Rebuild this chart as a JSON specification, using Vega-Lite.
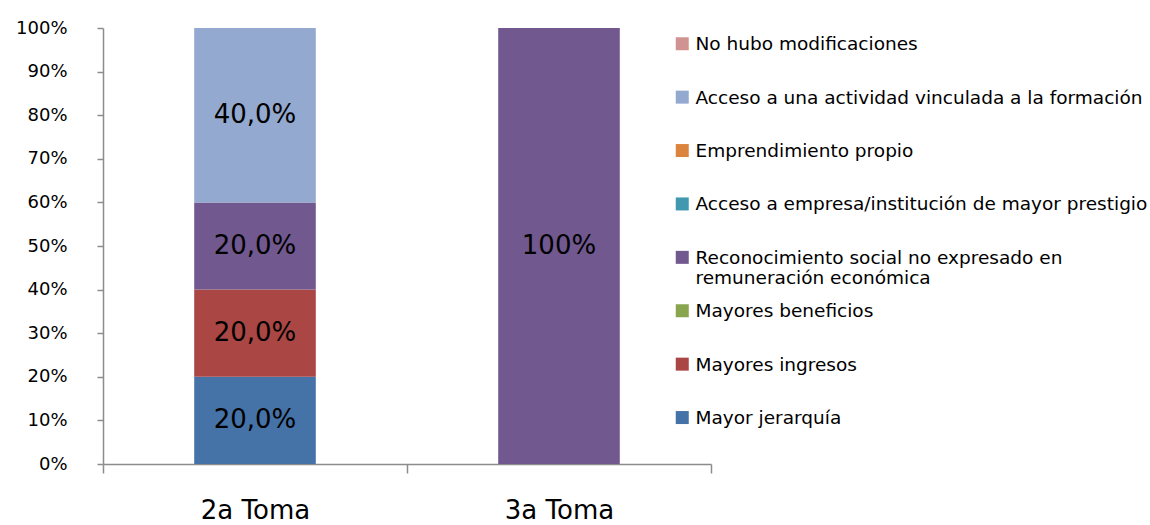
{
  "$schema": "https://vega.github.io/schema/vega-lite/v6.json",
  "width": 608,
  "height": 436,
  "autosize": "none",
  "padding": {"left": 103, "top": 28, "right": 439, "bottom": 61},
  "background": "white",
  "config": {
    "view": {"stroke": null},
    "font": "DejaVu Sans"
  },
  "data": {
    "values": [
      {"toma": "2a Toma", "cat": "Mayor jerarquía", "ord": 1, "value": 0.2, "label": "20,0%"},
      {"toma": "2a Toma", "cat": "Mayores ingresos", "ord": 2, "value": 0.2, "label": "20,0%"},
      {"toma": "2a Toma", "cat": "Reconocimiento social no expresado en remuneración económica", "ord": 4, "value": 0.2, "label": "20,0%"},
      {"toma": "2a Toma", "cat": "Acceso a una actividad vinculada a la formación", "ord": 7, "value": 0.4, "label": "40,0%"},
      {"toma": "3a Toma", "cat": "Reconocimiento social no expresado en remuneración económica", "ord": 4, "value": 1.0, "label": "100%"}
    ]
  },
  "transform": [
    {"stack": "value", "groupby": ["toma"], "sort": [{"field": "ord", "order": "ascending"}], "as": ["v0", "v1"]},
    {"calculate": "(datum.v0 + datum.v1) / 2", "as": "mid"}
  ],
  "encoding": {
    "x": {
      "field": "toma", "type": "nominal",
      "scale": {"paddingInner": 0, "paddingOuter": 0},
      "axis": {
        "title": null, "labelAngle": 0, "labelFontSize": 26, "labelColor": "#000",
        "domainColor": "#8c8c8c", "domainWidth": 1.5, "tickColor": "#8c8c8c", "tickWidth": 1.5,
        "tickSize": 9, "tickBand": "extent", "labelPadding": 24
      }
    }
  },
  "layer": [
    {
      "mark": {"type": "bar", "width": {"band": 0.4}},
      "encoding": {
        "y": {
          "field": "v0", "type": "quantitative",
          "scale": {"domain": [0, 1]},
          "axis": {
            "title": null, "format": ".0%", "values": [0, 0.1, 0.2, 0.3, 0.4, 0.5, 0.6, 0.7, 0.8, 0.9, 1],
            "grid": false, "labelFontSize": 18, "labelColor": "#000", "labelOverlap": false,
            "domainColor": "#8c8c8c", "domainWidth": 1.5, "tickColor": "#8c8c8c", "tickWidth": 1.5,
            "tickSize": 6, "labelPadding": 30
          }
        },
        "y2": {"field": "v1"},
        "color": {
          "field": "cat", "type": "nominal",
          "scale": {
            "domain": [
              "No hubo modificaciones",
              "Acceso a una actividad vinculada a la formación",
              "Emprendimiento propio",
              "Acceso a empresa/institución de mayor prestigio",
              "Reconocimiento social no expresado en remuneración económica",
              "Mayores beneficios",
              "Mayores ingresos",
              "Mayor jerarquía"
            ],
            "range": ["#D19392", "#93A9CF", "#DB843D", "#4198AF", "#71588F", "#89A54E", "#AA4643", "#4572A7"]
          },
          "legend": {
            "title": null, "orient": "none", "legendX": 570, "legendY": 13,
            "padding": 0, "symbolType": "M-1,-2H1V0H-1Z", "symbolSize": 169, "symbolStrokeWidth": 0,
            "labelFontSize": 18.5, "labelColor": "#000", "labelOffset": 4, "labelBaseline": "alphabetic",
            "gridAlign": "all", "rowPadding": 13.4,
            "labelLimit": 600,
            "labelExpr": "datum.label == 'Reconocimiento social no expresado en remuneración económica' ? ['Reconocimiento social no expresado en', 'remuneración económica'] : datum.label"
          }
        }
      }
    },
    {
      "mark": {"type": "text", "fontSize": 26, "color": "#000", "baseline": "middle"},
      "encoding": {
        "y": {"field": "mid", "type": "quantitative"},
        "text": {"field": "label"}
      }
    }
  ]
}
